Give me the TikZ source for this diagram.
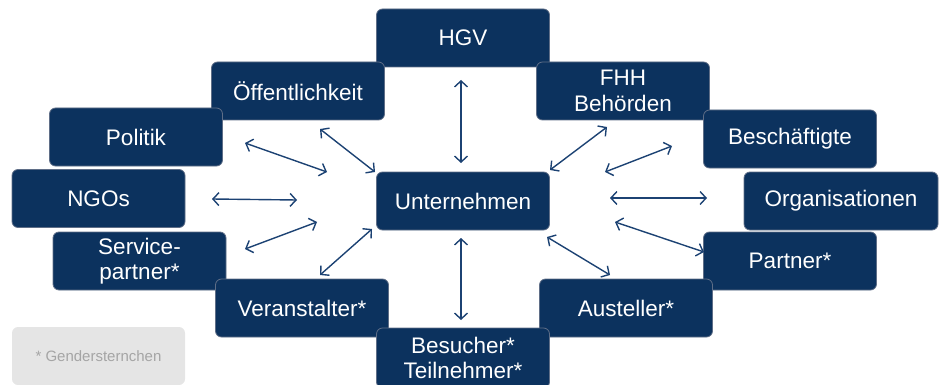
\documentclass[tikz,border=0pt]{standalone}
\usepackage{fontspec}
\setmainfont{Liberation Sans}
\usetikzlibrary{arrows.meta}
\definecolor{boxfill}{RGB}{12,50,94}
\definecolor{boxline}{RGB}{95,110,135}
\definecolor{arrowc}{RGB}{28,66,115}
\definecolor{notefill}{RGB}{229,229,229}
\definecolor{notetext}{RGB}{165,165,165}
\tikzset{
  sbox/.style={draw=boxline, line width=0.8pt, fill=boxfill, rounded corners=6pt,
    text=white, align=center, inner sep=0pt, minimum height=58pt, minimum width=173pt,
    font=\fontsize{22.5}{25.5}\selectfont},
  notebox/.style={fill=notefill, rounded corners=6pt, text=notetext,
    minimum height=58pt, minimum width=173pt, inner sep=0pt,
    font=\fontsize{15}{17}\selectfont},
  link/.style={draw=arrowc, line width=1.4pt, {Straight Barb[length=6pt,width=13pt]}-{Straight Barb[length=6pt,width=13pt]}}
}
\begin{document}
\begin{tikzpicture}[x=1pt,y=-1pt]
\useasboundingbox (0,0) rectangle (944,385);
\node[sbox] (hgv) at (463,38) {HGV};
\node[sbox] (oeff) at (298,91) {Öffentlichkeit};
\node[sbox] (fhh) at (623,91) {FHH\\Behörden};
\node[sbox] (pol) at (136,137) {Politik};
\node[sbox] (besch) at (790,139) {Beschäftigte};
\node[sbox] (ngo) at (98.5,198.5) {NGOs};
\node[sbox] (unt) at (463,201) {Unternehmen};
\node[sbox, minimum width=194pt] (org) at (841,201) {Organisationen};
\node[sbox] (serv) at (139.5,261) {Service-\\partner*};
\node[sbox] (part) at (790,261) {Partner*};
\node[sbox] (veran) at (302,308) {Veranstalter*};
\node[sbox] (aust) at (626,308) {Austeller*};
\node[sbox, minimum height=60pt] (bes) at (463,358) {Besucher*\\Teilnehmer*};
\node[notebox] (note) at (98.5,356) {* Gendersternchen};
% arrow end points
\coordinate (h1) at (461,80);   \coordinate (h2) at (461,163);
\coordinate (o1) at (320,129);  \coordinate (o2) at (375,172);
\coordinate (p1) at (245,143);  \coordinate (p2) at (327,172);
\coordinate (n1) at (212,199);  \coordinate (n2) at (297,200);
\coordinate (s1) at (245,249);  \coordinate (s2) at (317,222);
\coordinate (v1) at (320,275);  \coordinate (v2) at (372,229);
\coordinate (b1) at (461,238);  \coordinate (b2) at (461,320);
\coordinate (a1) at (547,237);  \coordinate (a2) at (610,275);
\coordinate (t1) at (615,222);  \coordinate (t2) at (704,252);
\coordinate (g1) at (610,198);  \coordinate (g2) at (707,198);
\coordinate (e1) at (605,172);  \coordinate (e2) at (672,146);
\coordinate (f1) at (550,170);  \coordinate (f2) at (607,127);
\draw[link] (h1) -- (h2);
\draw[link] (o1) -- (o2);
\draw[link] (p1) -- (p2);
\draw[link] (n1) -- (n2);
\draw[link] (s1) -- (s2);
\draw[link] (v1) -- (v2);
\draw[link] (b1) -- (b2);
\draw[link] (a1) -- (a2);
\draw[link] (t1) -- (t2);
\draw[link] (g1) -- (g2);
\draw[link] (e1) -- (e2);
\draw[link] (f1) -- (f2);
\end{tikzpicture}
\end{document}
